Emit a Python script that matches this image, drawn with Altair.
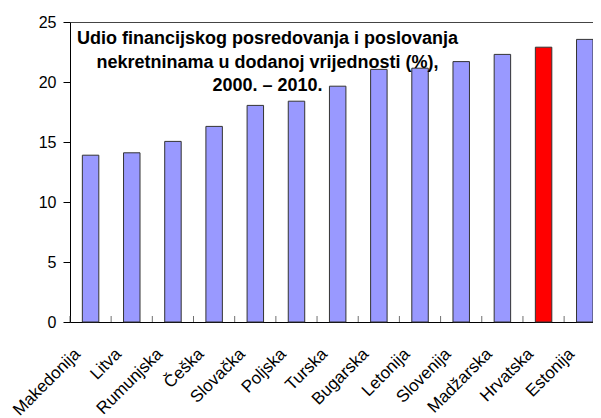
import altair as alt
import pandas as pd

countries = ["Makedonija", "Litva", "Rumunjska", "Češka", "Slovačka", "Poljska", "Turska",
             "Bugarska", "Letonija", "Slovenija", "Madžarska", "Hrvatska", "Estonija"]
values = [13.9, 14.1, 15.05, 16.3, 18.05, 18.4, 19.65, 21.05, 21.15, 21.7, 22.3, 22.9, 23.55]
highlight = "Hrvatska"
title_lines = ["Udio financijskog posredovanja i poslovanja",
               "nekretninama u dodanoj vrijednosti (%),",
               "2000. – 2010."]
y_ticks = [0, 5, 10, 15, 20, 25]

df = pd.DataFrame({"country": countries, "value": values})
df["hl"] = df["country"].eq(highlight).map({True: "hl", False: "base"})

FONT = "Liberation Sans"
W, H = 523, 300
x_scale = alt.Scale(paddingInner=0.6, paddingOuter=0.15, align=1)

x_enc = alt.X("country:N", sort=countries, scale=x_scale,
              axis=alt.Axis(title=None, labelAngle=-45, labelAlign="right", labelBaseline="middle",
                            labelFontSize=17, labelFont=FONT, labelColor="black",
                            ticks=False, domainColor="black", labelPadding=29, labelOffset=-13))
y_enc = alt.Y("value:Q", scale=alt.Scale(domain=[0, 25], nice=False),
              axis=alt.Axis(title=None, values=y_ticks, labelFontSize=16, labelFont=FONT,
                            labelColor="black", tickColor="black", tickSize=7, domainColor="black",
                            labelPadding=7, grid=True, gridColor="#444444", gridWidth=1,
                            gridOpacity={"condition": {"test": "datum.value === 25", "value": 1},
                                         "value": 0}))

bars = alt.Chart(df).mark_bar(stroke="#333333", strokeWidth=1).encode(
    x=x_enc,
    y=y_enc,
    color=alt.Color("hl:N", scale=alt.Scale(domain=["base", "hl"], range=["#9999FF", "#FF0000"]),
                    legend=None),
)

ticks = alt.Chart(df).mark_tick(
    color="#333333", orient="vertical", thickness=1, size=6, xOffset=-12.4, yOffset=-3
).encode(
    x=alt.X("country:N", sort=countries, bandPosition=0),
    y=alt.datum(0),
)

title = alt.Chart(pd.DataFrame({"a": [0]})).mark_text(
    align="center", baseline="alphabetic", fontSize=18, fontWeight="bold", font=FONT,
    lineHeight=23.5, color="black"
).encode(x=alt.value(197.5), y=alt.value(22), text=alt.value(title_lines))

chart = alt.layer(bars, ticks, title).properties(
    width=W, height=H,
    background="white",
    autosize=alt.AutoSizeParams(type="none"),
    padding={"left": 62, "top": 14, "right": 0, "bottom": 96},
).configure_view(strokeWidth=0)

chart.save("out.html", embed_options={"renderer": "svg", "actions": False})
